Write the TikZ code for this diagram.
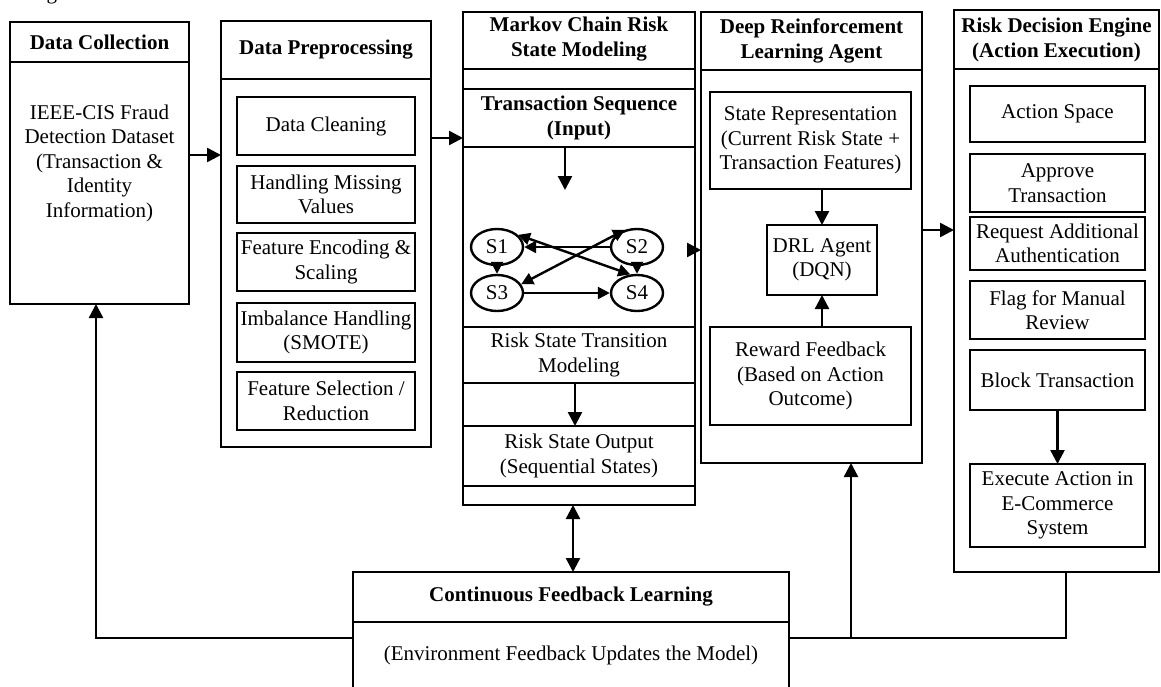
\documentclass[tikz,border=0pt]{standalone}
\usepackage{fontspec}
\setmainfont{Liberation Serif}
\usetikzlibrary{arrows.meta,shapes.geometric}
\begin{document}
\begin{tikzpicture}[x=1pt,y=-1pt,
  font=\fontsize{21}{24.5}\selectfont,
  frame/.style={draw,line width=2.4pt,inner sep=0pt,outer sep=0pt,align=center},
  ibox/.style={frame},
  txt/.style={align=center,inner sep=0pt},
  hdr/.style={align=center,inner sep=0pt,font=\fontsize{21}{24.5}\selectfont\bfseries},
  ln/.style={line width=2.4pt},
  arr/.style={line width=2.4pt,-{Triangle[length=14pt,width=14pt]}},
  sarr/.style={line width=2.4pt,-{Triangle[length=12pt,width=12pt]}},
  sdarr/.style={line width=2.4pt,{Triangle[length=12pt,width=12pt]}-{Triangle[length=12pt,width=12pt]}},
  darr/.style={line width=2.4pt,{Triangle[length=14pt,width=14pt]}-{Triangle[length=14pt,width=14pt]}},
  st/.style={draw,ellipse,line width=2.4pt,minimum width=52pt,minimum height=36pt,inner sep=0pt},
]
\useasboundingbox (0,0) rectangle (1161,686);
\clip (0,0) rectangle (1161,686);

\node[anchor=base west,inner sep=0pt] (figlabel) at (29,-1) {Fig};

% Data Collection
\node[frame,minimum width=179pt,minimum height=282pt] (dc) at (99.5,163) {};
\draw[ln] (10,62) -- (189,62);
\node[hdr] (dch) at (99.5,42) {Data Collection};
\node[txt] (dct) at (99.5,163) {IEEE-CIS Fraud\\Detection Dataset\\(Transaction \&\\Identity\\Information)};

% Data Preprocessing
\node[frame,minimum width=210pt,minimum height=426pt] (dp) at (326,234) {};
\draw[ln] (221,79) -- (431,79);
\node[hdr] (dph) at (326,50) {Data Preprocessing};
\node[ibox,minimum width=178pt,minimum height=58pt] (dp1) at (326,126) {Data Cleaning};
\node[ibox,minimum width=178pt,minimum height=57pt] (dp2) at (326,194.5) {Handling Missing\\Values};
\node[ibox,minimum width=178pt,minimum height=58pt] (dp3) at (326,262) {Feature Encoding \&\\Scaling};
\node[ibox,minimum width=178pt,minimum height=59pt] (dp4) at (326,332.5) {Imbalance Handling\\(SMOTE)};
\node[ibox,minimum width=178pt,minimum height=58pt] (dp5) at (326,401) {Feature Selection /\\Reduction};

% Markov
\node[frame,minimum width=232pt,minimum height=493pt] (mk) at (579,258.5) {};
\draw[ln] (463,69) -- (695,69);
\node[hdr] (mkh) at (579,39) {Markov Chain Risk\\State Modeling};
\node[frame,minimum width=232pt,minimum height=58pt,font=\fontsize{21}{24.5}\selectfont\bfseries] (ts) at (579,118) {Transaction Sequence\\(Input)};
\node[frame,minimum width=232pt,minimum height=56pt] (rst) at (579,355) {Risk State Transition\\Modeling};
\node[frame,minimum width=232pt,minimum height=60pt] (rso) at (579,456) {Risk State Output\\(Sequential States)};
\node[st] (s1) at (497,247) {S1};
\node[st] (s2) at (637,247) {S2};
\node[st] (s3) at (497,293) {S3};
\node[st] (s4) at (637,293) {S4};
\coordinate (sin) at (565,190);
\draw[arr] (ts.south -| sin) -- (sin);
\draw[sarr] (s2) -- (s1);
\draw[sarr] (s1) -- (s3);
\draw[sarr] (s2) -- (s4);
\draw[sarr] (s3) -- (s4);
\draw[sdarr] (s1.30) -- (s4.110);
\draw[sdarr] (s2.125) -- (s3.20);
\draw[arr] (rst.south -| 575,0) -- (rso.north -| 575,0);

% DRL
\node[frame,minimum width=221pt,minimum height=451pt] (drl) at (811.5,237.5) {};
\draw[ln] (701,70) -- (922,70);
\node[hdr] (drlh) at (811.5,41) {Deep Reinforcement\\Learning Agent};
\node[ibox,minimum width=201pt,minimum height=97pt] (srep) at (810.5,140.5) {State Representation\\(Current Risk State +\\Transaction Features)};
\node[ibox,minimum width=110pt,minimum height=70pt] (agent) at (822,260) {DRL Agent\\(DQN)};
\node[ibox,minimum width=201pt,minimum height=98pt] (rew) at (810.5,376) {Reward Feedback\\(Based on Action\\Outcome)};
\draw[arr] (srep.south -| agent) -- (agent.north);
\draw[arr] (rew.north -| agent) -- (agent.south);

% Risk Decision Engine
\node[frame,minimum width=205pt,minimum height=562pt] (rde) at (1056.5,291) {};
\draw[ln] (954,69) -- (1159,69);
\node[hdr] (rdeh) at (1056.5,40) {Risk Decision Engine\\(Action Execution)};
\node[ibox,minimum width=175pt,minimum height=56pt] (a1) at (1057.5,114) {Action Space};
\node[ibox,minimum width=175pt,minimum height=58pt] (a2) at (1057.5,183) {Approve\\Transaction};
\node[ibox,minimum width=175pt,minimum height=53pt] (a3) at (1057.5,243.5) {Request Additional\\Authentication};
\node[ibox,minimum width=175pt,minimum height=58pt] (a4) at (1057.5,310) {Flag for Manual\\Review};
\node[ibox,minimum width=175pt,minimum height=60pt] (a5) at (1057.5,380) {Block Transaction};
\node[ibox,minimum width=175pt,minimum height=83pt] (a6) at (1057.5,505.5) {Execute Action in\\E-Commerce\\System};
\draw[arr] (a5) -- (a6);

% Continuous Feedback Learning
\node[frame,minimum width=436pt,minimum height=128pt] (cfl) at (571,636) {};
\draw[ln] (353,622) -- (789,622);
\node[hdr] (cflh) at (571,597) {Continuous Feedback Learning};
\node[txt] (cflt) at (571,655) {(Environment Feedback Updates the Model)};

% main flow arrows
\draw[arr] (dc.east |- 0,155) -- (dp.west |- 0,155);
\draw[arr] (dp.east |- 0,138) -- (mk.west |- 0,138);
\draw[arr] (mk.east |- 0,250) -- (drl.west |- 0,250);
\draw[arr] (drl.east |- 0,230) -- (rde.west |- 0,230);
\draw[darr] (mk.south -| 573,0) -- (cfl.north -| 573,0);

% feedback loop
\coordinate (jl) at (96,638);
\coordinate (jr) at (1066,638);
\coordinate (jm) at (851,638);
\draw[arr] (cfl.west |- jl) -- (jl) -- (dc.south -| jl);
\draw[ln] (cfl.east |- jr) -- (jr) -- (rde.south -| jr);
\draw[arr] (jm) -- (drl.south -| jm);
\end{tikzpicture}
\end{document}
